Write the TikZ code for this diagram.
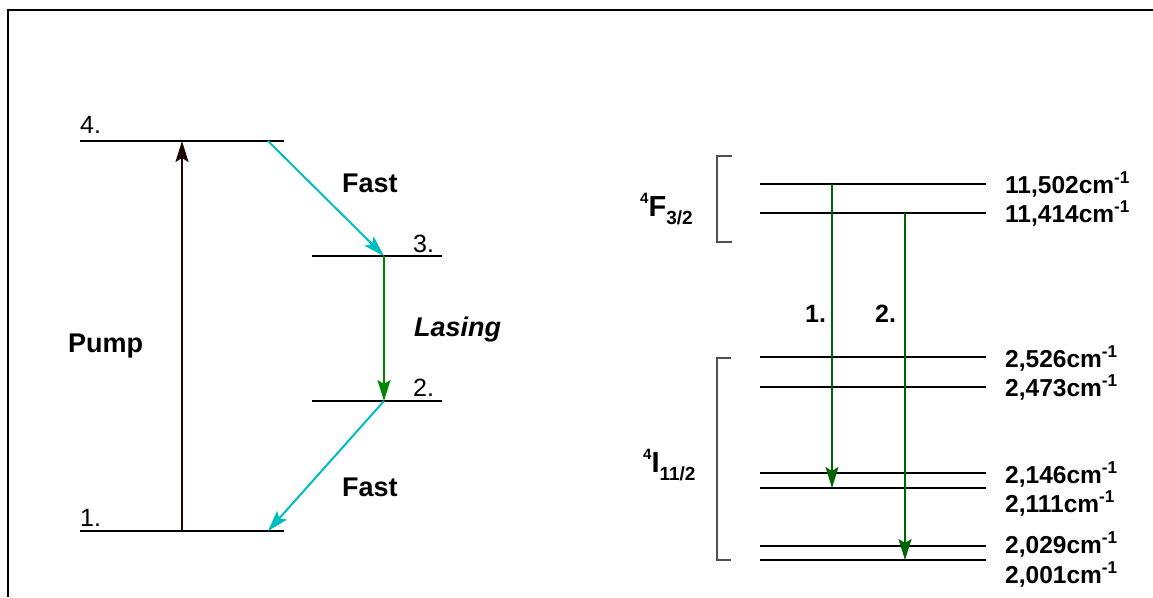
\documentclass[tikz,border=0pt]{standalone}
\usepackage{fontspec}
\setmainfont{Liberation Sans}
\usepackage{tikz}
\usetikzlibrary{arrows.meta}
\definecolor{fastcol}{RGB}{0, 190, 190}
\definecolor{lasecol}{RGB}{0, 135, 0}
\definecolor{transcol}{RGB}{0, 100, 0}
\definecolor{pumpcol}{RGB}{30, 5, 5}
\definecolor{brackcol}{RGB}{80, 80, 80}
\newcommand{\wavenum}[1]{#1cm\textsuperscript{-1}}
\newcommand{\term}[3]{\raisebox{0.42em}{\fontsize{15}{15}\selectfont #1}#2\raisebox{-0.28em}{\fontsize{19}{19}\selectfont #3}}

\begin{document}
\begin{tikzpicture}[x=1pt, y=-1pt,
    level/.style={line width=1.6pt},
    sublevel/.style={line width=1.2pt},
    tip/.style={-{Stealth[length=21pt,width=13pt,inset=4pt]}, line width=2pt},
    big/.style={font=\fontsize{27}{30}\selectfont\bfseries, inner sep=0pt, anchor=base west},
    num/.style={font=\fontsize{25}{28}\selectfont, inner sep=0pt, anchor=base west},
    val/.style={font=\fontsize{24.5}{28}\selectfont\bfseries, inner sep=0pt, anchor=base west}]
  \useasboundingbox (0,0) rectangle (1153,597);
  \draw[line width=1.3pt] (8,597) -- (8,10) -- (1153,10);
  % four-level scheme
  \foreach \y/\n/\ty in {141/4/133, 531/1/526}{
    \draw[level] (80,\y) -- (284,\y);
    \node[num] (n\n) at (80,\ty) {\n.};
  }
  \foreach \y/\n/\ty in {256/3/252, 401/2/396}{
    \draw[level] (312,\y) -- (442,\y);
    \node[num] (n\n) at (413,\ty) {\n.};
  }
  \coordinate (pumpa) at (182,531);
  \coordinate (pumpb) at (182,141);
  \coordinate (fa) at (268,141);
  \coordinate (fb) at (384,256);
  \coordinate (fc) at (384,401);
  \coordinate (fd) at (268,531);
  \draw[tip, pumpcol] (pumpa) -- (pumpb);
  \draw[tip, fastcol] (fa) -- (fb);
  \draw[tip, lasecol] (fb) -- (fc);
  \draw[tip, fastcol] (fc) -- (fd);
  \node[big] (pump) at (68,352) {Pump};
  \node[big] (fast1) at (342,192) {Fast};
  \node[big] (fast2) at (342,496) {Fast};
  \node[big] (lasing) at (414,336) {\itshape Lasing};
  % Nd:YAG levels
  \foreach \i/\y/\ty/\e in {1/184/193/11{,}502, 2/213/222/11{,}414, 3/357/367/2{,}526, 4/387/396/2{,}473, 5/473/483/2{,}146, 6/488/512/2{,}111, 7/546/553/2{,}029, 8/560/583/2{,}001}{
    \draw[sublevel] (760,\y) -- (986,\y);
    \node[val] (v\i) at (1005,\ty) {\wavenum{\e}};
  }
  \draw[brackcol, line width=1.3pt] (732,156) -- (717,156) -- (717,242) -- (732,242);
  \draw[brackcol, line width=1.3pt] (731,358) -- (717,358) -- (717,560) -- (731,560);
  \node[big, font=\fontsize{29}{30}\selectfont\bfseries] (f32) at (640,216) {\term{4}{F}{3/2}};
  \node[big, font=\fontsize{29}{30}\selectfont\bfseries] (i112) at (643,472) {\term{4}{I}{11/2}};
  \coordinate (t1a) at (832,184);
  \coordinate (t1b) at (832,488);
  \coordinate (t2a) at (905,213);
  \coordinate (t2b) at (905,560);
  \draw[tip, transcol, line width=1.8pt] (t1a) -- (t1b);
  \draw[tip, transcol, line width=1.8pt] (t2a) -- (t2b);
  \node[big, font=\fontsize{25}{28}\selectfont\bfseries] (tr1) at (805,322) {1.};
  \node[big, font=\fontsize{25}{28}\selectfont\bfseries] (tr2) at (875,322) {2.};
\end{tikzpicture}
\end{document}
